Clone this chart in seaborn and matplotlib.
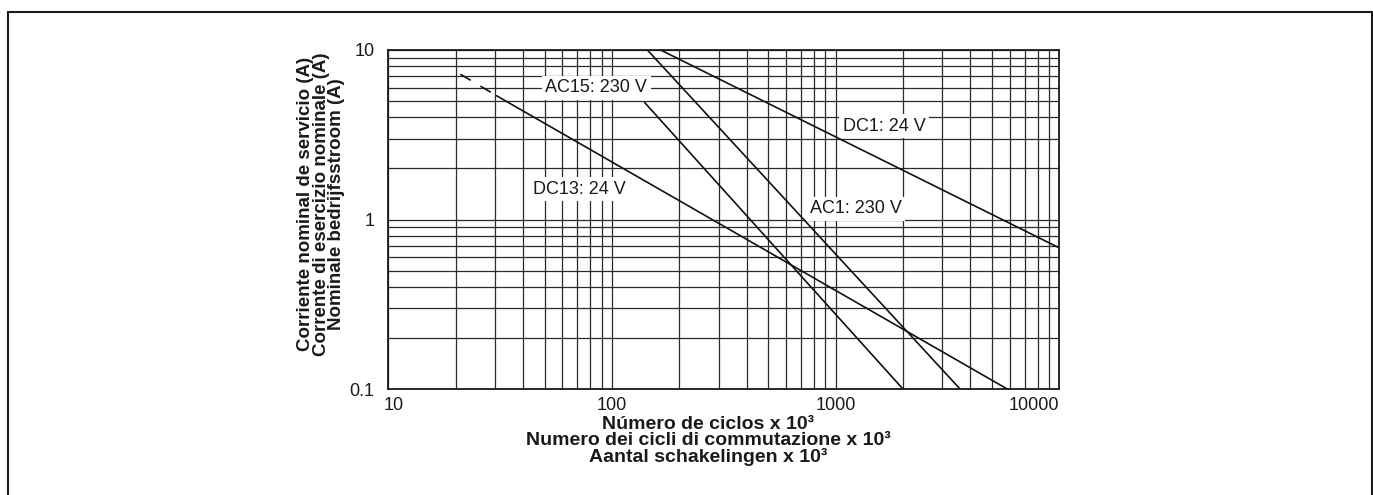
import numpy as np
import pandas as pd
import matplotlib
matplotlib.use("Agg")
import matplotlib.pyplot as plt
import matplotlib.transforms as mtransforms
from matplotlib.ticker import LogLocator, FixedLocator, NullFormatter
from matplotlib.patches import Rectangle
import seaborn as sns

# --- Datos (ciclos x 10^3, corriente en A) ---
dc1_ciclos = [165, 10000]
dc1_corriente = [10, 0.68]

ac1_ciclos = [144, 3600]
ac1_corriente = [10, 0.1]

ac15_ciclos = [140, 2000]
ac15_corriente = [4.9, 0.1]

dc13_ciclos = [30.5, 5850]
dc13_corriente = [5.37, 0.1]
dc13_ext_ciclos = [21, 30.5]      # tramo discontinuo
dc13_ext_corriente = [7.2, 5.37]

etiquetas = ["AC15: 230 V", "DC13: 24 V", "DC1: 24 V", "AC1: 230 V"]
etiqueta_x = [85, 71.6, 1644, 1227]
etiqueta_y = [5.97, 1.51, 3.56, 1.16]

x_ticks = [10, 100, 1000, 10000]
x_ticklabels = ["10", "100", "1000", "10000"]
y_ticks = [0.1, 1, 10]
y_ticklabels = ["0.1", "1", "10"]

# --- Estilo ---
sns.set_theme(style="white")
plt.rcParams['font.family'] = ['Liberation Sans', 'DejaVu Sans']

W, H = 1373, 495
fig = plt.figure(figsize=(W / 100, H / 100), dpi=100)
ax = fig.add_axes([388.3 / W, 1 - 389 / H, 671 / W, 339 / H])

ax.set_xscale('log')
ax.set_yscale('log')
ax.set_xlim(10, 10000)
ax.set_ylim(0.1, 10)

# Rejilla
ax.xaxis.set_minor_locator(LogLocator(base=10, subs=np.arange(2, 10)))
ax.yaxis.set_minor_locator(LogLocator(base=10, subs=np.arange(2, 10)))
ax.xaxis.set_minor_formatter(NullFormatter())
ax.yaxis.set_minor_formatter(NullFormatter())
ax.grid(which='both', color='#2a2a2a', linewidth=0.9)
ax.set_axisbelow(True)

# Curvas
curvas = [
    (dc1_ciclos, dc1_corriente),
    (ac1_ciclos, ac1_corriente),
    (ac15_ciclos, ac15_corriente),
    (dc13_ciclos, dc13_corriente),
]
for cx, cy in curvas:
    sns.lineplot(x=cx, y=cy, color='#111111', linewidth=1.2, ax=ax)

linea_ext = sns.lineplot(x=dc13_ext_ciclos, y=dc13_ext_corriente,
                         color='#111111', linewidth=1.2, ax=ax)
linea_ext.lines[-1].set_dashes([7.2, 6.8])

# Etiquetas de las curvas
for txt, lx, ly in zip(etiquetas, etiqueta_x, etiqueta_y):
    ax.text(lx, ly, txt, ha='center', va='center', fontsize=13,
            color='#1a1a1a', zorder=5,
            bbox=dict(facecolor='white', edgecolor='none', pad=2.5))

# Ejes
ax.xaxis.set_major_locator(FixedLocator(x_ticks))
ax.yaxis.set_major_locator(FixedLocator(y_ticks))
ax.set_xticklabels(x_ticklabels)
ax.set_yticklabels(y_ticklabels)
ax.tick_params(which='both', length=0, labelsize=13, colors='#1a1a1a')
ax.tick_params(axis='x', pad=6)
ax.tick_params(axis='y', pad=10)

# primera y última etiqueta del eje x desplazadas hacia dentro
xlabs = ax.get_xticklabels()
xlabs[0].set_transform(xlabs[0].get_transform() +
                       mtransforms.ScaledTranslation(0.05, 0, fig.dpi_scale_trans))
xlabs[-1].set_horizontalalignment('right')

for s in ax.spines.values():
    s.set_color('#1a1a1a')
    s.set_linewidth(1.3)
    s.set_visible(True)

fig.text(708 / W, 1 - 441 / H,
         "Número de ciclos x 10³\nNumero dei cicli di commutazione x 10³\nAantal schakelingen x 10³",
         ha='center', va='center', multialignment='center',
         fontsize=14, fontweight='bold', color='#1a1a1a', linespacing=0.92)
fig.text(321 / W, 1 - 204 / H,
         "Corriente nominal de servicio (A)\nCorrente di esercizio nominale (A)\nNominale bedrijfsstroom (A)",
         ha='center', va='center', multialignment='center', rotation=90,
         fontsize=13.5, fontweight='bold', color='#1a1a1a', linespacing=0.92)

# Marco exterior
fig.patches.append(Rectangle((8 / W, -0.05), (1372 - 8) / W, 1 - 12 / H + 0.05,
                             transform=fig.transFigure, fill=False,
                             edgecolor='#1a1a1a', linewidth=1.5))

fig.savefig('out.png', dpi=100, facecolor='white')
